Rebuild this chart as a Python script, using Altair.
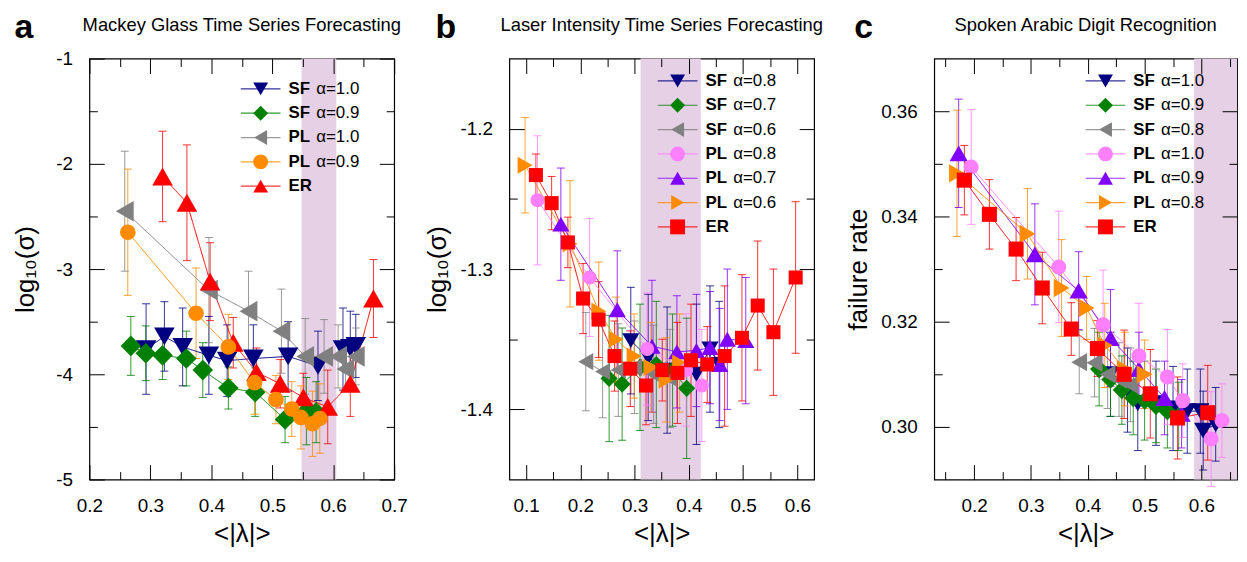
import altair as alt
import pandas as pd

FONT = "Liberation Sans"
SHADE = "#e6d0e6"

# ---------------- panel a : Mackey Glass ----------------
a_names = ["SF α=1.0", "SF α=0.9", "PL α=1.0", "PL α=0.9", "ER"]
a_colors = ["#000080", "#008000", "#808080", "#ff8c00", "#ff0000"]
a_shapes = ["triangle-down", "diamond", "triangle-left", "circle", "triangle-up"]

a_sf10_x = [0.293, 0.323, 0.353, 0.396, 0.426, 0.469, 0.526, 0.575, 0.616, 0.628, 0.637]
a_sf10_y = [-3.76, -3.64, -3.74, -3.82, -3.87, -3.85, -3.83, -3.92, -3.76, -3.75, -3.73]
a_sf10_e = [0.43, 0.33, 0.37, 0.37, 0.34, 0.32, 0.33, 0.33, 0.39, 0.35, 0.30]

a_sf09_x = [0.268, 0.2925, 0.320, 0.359, 0.386, 0.428, 0.472, 0.521, 0.556, 0.572]
a_sf09_y = [-3.73, -3.80, -3.82, -3.85, -3.96, -4.13, -4.17, -4.43, -4.35, -4.36]
a_sf09_e = [0.28, 0.26, 0.23, 0.26, 0.26, 0.20, 0.23, 0.22, 0.32, 0.29]

a_pl10_x = [0.258, 0.396, 0.461, 0.515, 0.554, 0.585, 0.608, 0.620, 0.637]
a_pl10_y = [-2.45, -3.20, -3.40, -3.59, -3.83, -3.83, -3.83, -3.95, -3.83]
a_pl10_e = [0.57, 0.50, 0.38, 0.40, 0.36, 0.35, 0.30, 0.20, 0.27]

a_pl09_x = [0.263, 0.375, 0.428, 0.471, 0.506, 0.532, 0.547, 0.566, 0.578]
a_pl09_y = [-2.65, -3.42, -3.74, -4.08, -4.24, -4.33, -4.41, -4.47, -4.42]
a_pl09_e = [0.60, 0.43, 0.31, 0.30, 0.23, 0.26, 0.30, 0.31, 0.33]

a_er_x = [0.320, 0.360, 0.398, 0.436, 0.474, 0.513, 0.551, 0.591, 0.628, 0.666]
a_er_y = [-2.12, -2.37, -3.12, -3.70, -3.98, -4.09, -4.22, -4.31, -4.09, -3.28]
a_er_e = [0.43, 0.55, 0.37, 0.24, 0.23, 0.23, 0.23, 0.35, 0.31, 0.37]

# ---------------- panel b : Laser ----------------
b_names = ["SF α=0.8", "SF α=0.7", "SF α=0.6", "PL α=0.8", "PL α=0.7", "PL α=0.6", "ER"]
b_colors = ["#000080", "#008000", "#808080", "#ff80ff", "#8000ff", "#ff8c00", "#ff0000"]
b_shapes = ["triangle-down", "diamond", "triangle-left", "circle", "triangle-up", "triangle-right", "square"]

b_sf08_x = [0.293, 0.325, 0.360, 0.414, 0.439, 0.456]
b_sf08_y = [-1.351, -1.363, -1.372, -1.375, -1.357, -1.368]
b_sf08_e = [0.038, 0.045, 0.045, 0.050, 0.045, 0.045]

b_sf07_x = [0.253, 0.277, 0.310, 0.340, 0.370, 0.396]
b_sf07_y = [-1.378, -1.382, -1.370, -1.368, -1.372, -1.385]
b_sf07_e = [0.045, 0.040, 0.045, 0.045, 0.040, 0.050]

b_sf06_x = [0.210, 0.241, 0.270, 0.300, 0.335, 0.365]
b_sf06_y = [-1.366, -1.373, -1.372, -1.370, -1.375, -1.378]
b_sf06_e = [0.035, 0.033, 0.033, 0.033, 0.035, 0.035]

b_pl08_x = [0.121, 0.217, 0.323, 0.395, 0.424]
b_pl08_y = [-1.251, -1.306, -1.357, -1.372, -1.383]
b_pl08_e = [0.046, 0.042, 0.040, 0.040, 0.040]

b_pl07_x = [0.164, 0.268, 0.332, 0.378, 0.414, 0.439, 0.457, 0.471, 0.505]
b_pl07_y = [-1.268, -1.329, -1.355, -1.359, -1.358, -1.356, -1.368, -1.350, -1.351]
b_pl07_e = [0.040, 0.042, 0.047, 0.040, 0.040, 0.040, 0.040, 0.050, 0.045]

b_pl06_x = [0.098, 0.181, 0.234, 0.266, 0.299, 0.330, 0.358, 0.383]
b_pl06_y = [-1.226, -1.282, -1.330, -1.350, -1.362, -1.370, -1.379, -1.367]
b_pl06_e = [0.034, 0.045, 0.035, 0.030, 0.030, 0.032, 0.030, 0.035]

b_er_x = [0.118, 0.147, 0.177, 0.205, 0.2335, 0.263, 0.292, 0.321, 0.351, 0.379, 0.404,
          0.434, 0.466, 0.498, 0.527, 0.556, 0.597]
b_er_y = [-1.233, -1.253, -1.281, -1.321, -1.336, -1.362, -1.371, -1.383, -1.372, -1.374, -1.365,
          -1.368, -1.362, -1.349, -1.326, -1.345, -1.306]
b_er_e = [0.015, 0.019, 0.018, 0.025, 0.027, 0.025, 0.027, 0.028, 0.022, 0.036, 0.040,
          0.027, 0.050, 0.045, 0.046, 0.045, 0.054]

# ---------------- panel c : Spoken Arabic Digit ----------------
c_names = ["SF α=1.0", "SF α=0.9", "SF α=0.8", "PL α=1.0", "PL α=0.9", "PL α=0.8", "ER"]
c_colors = ["#000080", "#008000", "#808080", "#ff80ff", "#8000ff", "#ff8c00", "#ff0000"]
c_shapes = ["triangle-down", "diamond", "triangle-left", "circle", "triangle-up", "triangle-right", "square"]

c_sf10_x = [0.440, 0.470, 0.488, 0.520, 0.550, 0.575, 0.598, 0.603, 0.625]
c_sf10_y = [0.3100, 0.3070, 0.3045, 0.3045, 0.3035, 0.3030, 0.3030, 0.2993, 0.3005]
c_sf10_e = [0.008, 0.008, 0.009, 0.008, 0.008, 0.008, 0.008, 0.0075, 0.007]

c_sf09_x = [0.420, 0.440, 0.460, 0.480, 0.500, 0.520, 0.540, 0.560]
c_sf09_y = [0.3110, 0.3090, 0.3070, 0.3055, 0.3050, 0.3040, 0.3030, 0.3020]
c_sf09_e = [0.007, 0.007, 0.0065, 0.007, 0.0075, 0.007, 0.007, 0.0065]

c_sf08_x = [0.385, 0.412, 0.435, 0.455, 0.475]
c_sf08_y = [0.3123, 0.3122, 0.3100, 0.3090, 0.3080]
c_sf08_e = [0.006, 0.0065, 0.0065, 0.007, 0.007]

c_pl10_x = [0.195, 0.349, 0.427, 0.490, 0.540, 0.567, 0.617, 0.636]
c_pl10_y = [0.3494, 0.3304, 0.3194, 0.3135, 0.3095, 0.3050, 0.2977, 0.3012]
c_pl10_e = [0.0109, 0.0106, 0.0104, 0.0100, 0.0090, 0.0070, 0.0090, 0.0070]

c_pl09_x = [0.173, 0.307, 0.384, 0.440, 0.490, 0.535, 0.565]
c_pl09_y = [0.3520, 0.3328, 0.3259, 0.3169, 0.3110, 0.3055, 0.3025]
c_pl09_e = [0.0103, 0.0096, 0.0074, 0.0092, 0.0070, 0.0070, 0.0065]

c_pl08_x = [0.170, 0.294, 0.354, 0.398, 0.430, 0.465, 0.500]
c_pl08_y = [0.3482, 0.3367, 0.3264, 0.3226, 0.3155, 0.3110, 0.3100]
c_pl08_e = [0.0120, 0.0086, 0.0092, 0.0060, 0.0080, 0.0070, 0.0065]

c_er_x = [0.183, 0.227, 0.274, 0.320, 0.371, 0.417, 0.464, 0.510, 0.558, 0.611]
c_er_y = [0.3469, 0.3404, 0.3338, 0.3264, 0.3186, 0.3149, 0.3100, 0.3063, 0.3017, 0.3027]
c_er_e = [0.0066, 0.0066, 0.0060, 0.0068, 0.0050, 0.0053, 0.0084, 0.0084, 0.0078, 0.0090]

# ---------------- axes / shading ----------------
a_xdom, a_ydom = [0.2, 0.7], [-5, -1]
a_xmaj = [0.2, 0.3, 0.4, 0.5, 0.6, 0.7]
a_xmin = [0.25, 0.35, 0.45, 0.55, 0.65]
a_ymaj = [-5, -4, -3, -2, -1]
a_ymin = [-4.5, -3.5, -2.5, -1.5]
a_shade = [0.548, 0.605]

b_xdom, b_ydom = [0.069, 0.631], [-1.45, -1.15]
b_xmaj = [0.1, 0.2, 0.3, 0.4, 0.5, 0.6]
b_xmin = [0.15, 0.25, 0.35, 0.45, 0.55]
b_ymaj = [-1.4, -1.3, -1.2]
b_ymin = [-1.35, -1.25]
b_shade = [0.311, 0.422]

c_xdom, c_ydom = [0.130, 0.6625], [0.29, 0.37]
c_xmaj = [0.2, 0.3, 0.4, 0.5, 0.6]
c_xmin = [0.15, 0.25, 0.35, 0.45, 0.55, 0.65]
c_ymaj = [0.30, 0.32, 0.34, 0.36]
c_ymin = [0.31, 0.33, 0.35]
c_shade = [0.587, 0.6625]

W, H, WC = 307, 424, 305
SMALL_SHAPES = ["circle", "square"]


def frame(names, xs, ys, es):
    rows = []
    for n, xv, yv, ev in zip(names, xs, ys, es):
        for x, y, e in zip(xv, yv, ev):
            rows.append({"s_line": "l|" + n, "s_pt": n, "s_txt": "t|" + n, "x": x, "y": y,
                         "lo": y - e, "hi": y + e})
    return pd.DataFrame(rows)


def tick_axis(orient, values, size, **kw):
    return alt.Axis(orient=orient, values=values, tickSize=size, offset=-size,
                    domain=False, grid=False, tickColor="black", tickWidth=1,
                    zindex=1, **kw)


def panel(df, names, colors, shapes, big, small, shade, xdom, ydom, xmaj, xmin, ymaj, ymin,
          xfmt, yfmt, ytitle, ytpad, title, letter, letter_dx, leg_x, leg_y, width):
    n = len(names)
    xs = alt.Scale(domain=xdom, nice=False, zero=False)
    ys = alt.Scale(domain=ydom, nice=False, zero=False)
    common = dict(orient="none", legendX=leg_x, legendY=leg_y, title=None, padding=0,
                  direction="vertical", symbolSize=225, labelFont=FONT, labelFontSize=17,
                  rowPadding=6.5, labelColor="black")
    leg_line = alt.Legend(symbolType="M-2.667,0L2.667,0", symbolStrokeWidth=1.2,
                          labelExpr="''", labelOffset=0, **common)
    leg_pt = alt.Legend(labelFontWeight="bold", labelExpr="split(datum.label, ' ')[0]",
                        labelOffset=19.5, symbolStrokeWidth=0, symbolOpacity=1, **common)
    leg_txt = alt.Legend(symbolOpacity=0, symbolType="circle",
                         labelExpr="length(split(datum.label, ' ')) > 1 ? split(datum.label, ' ')[1] : ''",
                         labelOffset=47.5, **common)

    stroke = alt.Stroke("s_line:N", scale=alt.Scale(domain=["l|" + v for v in names], range=colors),
                        legend=leg_line)
    fill = alt.Fill("s_pt:N", scale=alt.Scale(domain=names, range=colors), legend=leg_pt)
    shape = alt.Shape("s_pt:N", scale=alt.Scale(domain=names, range=shapes), legend=leg_pt)
    X = alt.X("x:Q", scale=xs, axis=None)
    Y = alt.Y("y:Q", scale=ys, axis=None)

    shade_df = pd.DataFrame({"x0": [shade[0]], "x1": [shade[1]]})
    shade_l = alt.Chart(shade_df).mark_rect(color=SHADE).encode(
        x=alt.X("x0:Q", scale=xs, axis=None), x2="x1:Q")

    rules = alt.Chart(df).mark_rule(strokeWidth=1, opacity=0.8).encode(
        x=X, y=alt.Y("lo:Q", scale=ys, axis=None), y2="hi:Q", stroke=stroke)
    cap_lo = alt.Chart(df).mark_point(shape="stroke", size=64, strokeWidth=1, opacity=0.8,
                                      filled=False).encode(
        x=X, y=alt.Y("lo:Q", scale=ys, axis=None), stroke=stroke)
    cap_hi = alt.Chart(df).mark_point(shape="stroke", size=64, strokeWidth=1, opacity=0.8,
                                      filled=False).encode(
        x=X, y=alt.Y("hi:Q", scale=ys, axis=None), stroke=stroke)
    lines = alt.Chart(df).mark_line(strokeWidth=1).encode(
        x=X, y=Y, stroke=stroke,
        strokeDash=alt.StrokeDash("s_txt:N",
                                  scale=alt.Scale(domain=["t|" + v for v in names],
                                                  range=[[1, 0]] * n),
                                  legend=leg_txt))
    small_names = [nm for nm, sh in zip(names, shapes) if sh in SMALL_SHAPES]
    big_names = [nm for nm in names if nm not in small_names]
    pts_big = alt.Chart(df).transform_filter(
        alt.FieldOneOfPredicate(field="s_pt", oneOf=big_names)).mark_point(
        filled=True, opacity=1, strokeWidth=0, size=big).encode(x=X, y=Y, fill=fill, shape=shape)
    pts_small = alt.Chart(df).transform_filter(
        alt.FieldOneOfPredicate(field="s_pt", oneOf=small_names)).mark_point(
        filled=True, opacity=1, strokeWidth=0, size=small).encode(x=X, y=Y, fill=fill, shape=shape)

    lab = dict(labelFont=FONT, labelFontSize=19, labelColor="black", labelPadding=17,
               labelFlush=False, labelOverlap=False,
               titleFont=FONT, titleFontSize=26, titleFontWeight="normal", titleColor="black")
    ax_main = alt.Chart(df).mark_point(opacity=0).encode(
        x=alt.X("x:Q", scale=xs, axis=tick_axis("bottom", xmaj, 15, format=xfmt,
                                                  title="<|λ|>", titlePadding=5, **lab)),
        y=alt.Y("y:Q", scale=ys, axis=tick_axis("left", ymaj, 15, format=yfmt,
                                                  labelExpr="replace(datum.label, '\u2212', '-')",
                                                  title=ytitle, titlePadding=ytpad, **lab)))
    ax_minor = alt.Chart(df).mark_point(opacity=0).encode(
        x=alt.X("x:Q", scale=xs, axis=tick_axis("bottom", xmin, 8, labels=False, title=None)),
        y=alt.Y("y:Q", scale=ys, axis=tick_axis("left", ymin, 8, labels=False, title=None)))
    ax_top = alt.Chart(df).mark_point(opacity=0).encode(
        x=alt.X("x:Q", scale=xs, axis=tick_axis("top", xmaj, 15, labels=False, title=None)),
        y=alt.Y("y:Q", scale=ys, axis=tick_axis("right", ymaj, 15, labels=False, title=None)))
    ax_topmin = alt.Chart(df).mark_point(opacity=0).encode(
        x=alt.X("x:Q", scale=xs, axis=tick_axis("top", xmin, 8, labels=False, title=None)),
        y=alt.Y("y:Q", scale=ys, axis=tick_axis("right", ymin, 8, labels=False, title=None)))

    letter_l = alt.Chart(shade_df).mark_text(
        text=letter, font=FONT, fontSize=34, fontWeight="bold", align="center",
        baseline="alphabetic", color="black").encode(x=alt.value(letter_dx), y=alt.value(-21))
    title_l = alt.Chart(shade_df).mark_text(
        text=title, font=FONT, fontSize=18.5, align="center",
        baseline="alphabetic", color="black").encode(x=alt.value(width / 2), y=alt.value(-28))

    return alt.layer(shade_l, rules, cap_lo, cap_hi, lines, pts_big, pts_small,
                     ax_main, ax_minor, ax_top, ax_topmin, letter_l, title_l).resolve_axis(
        x="independent", y="independent").properties(width=width, height=H)


a_df = frame(a_names,
             [a_sf10_x, a_sf09_x, a_pl10_x, a_pl09_x, a_er_x],
             [a_sf10_y, a_sf09_y, a_pl10_y, a_pl09_y, a_er_y],
             [a_sf10_e, a_sf09_e, a_pl10_e, a_pl09_e, a_er_e])
b_df = frame(b_names,
             [b_sf08_x, b_sf07_x, b_sf06_x, b_pl08_x, b_pl07_x, b_pl06_x, b_er_x],
             [b_sf08_y, b_sf07_y, b_sf06_y, b_pl08_y, b_pl07_y, b_pl06_y, b_er_y],
             [b_sf08_e, b_sf07_e, b_sf06_e, b_pl08_e, b_pl07_e, b_pl06_e, b_er_e])
c_df = frame(c_names,
             [c_sf10_x, c_sf09_x, c_sf08_x, c_pl10_x, c_pl09_x, c_pl08_x, c_er_x],
             [c_sf10_y, c_sf09_y, c_sf08_y, c_pl10_y, c_pl09_y, c_pl08_y, c_er_y],
             [c_sf10_e, c_sf09_e, c_sf08_e, c_pl10_e, c_pl09_e, c_pl08_e, c_er_e])

pa = panel(a_df, a_names, a_colors, a_shapes, 430, 250, a_shade, a_xdom, a_ydom,
           a_xmaj, a_xmin, a_ymaj, a_ymin, ".1f", ".0f", "log₁₀(σ)", 17,
           "Mackey Glass Time Series Forecasting", "a", -66, 164, 22, W)
pb = panel(b_df, b_names, b_colors, b_shapes, 300, 200, b_shade, b_xdom, b_ydom,
           b_xmaj, b_xmin, b_ymaj, b_ymin, ".1f", ".1f", "log₁₀(σ)", 10,
           "Laser Intensity Time Series Forecasting", "b", -64, 161, 14, W)
pc = panel(c_df, c_names, c_colors, c_shapes, 340, 230, c_shade, c_xdom, c_ydom,
           c_xmaj, c_xmin, c_ymaj, c_ymin, ".1f", ".2f", "failure rate", 9,
           "Spoken Arabic Digit Recognition", "c", -71, 164, 14, WC)

RES = dict(stroke="independent", fill="independent", shape="independent",
           strokeDash="independent")
right = alt.hconcat(pb, pc, spacing=121, bounds="flush").resolve_scale(**RES)
chart = alt.hconcat(pa, right, spacing=116, bounds="flush").resolve_scale(**RES).properties(
    padding={"left": 4, "top": 0, "right": 0, "bottom": 0}, background="white"
).configure_view(stroke="black", strokeWidth=1.2)

chart.save("out.html", embed_options={"renderer": "svg", "actions": False})
